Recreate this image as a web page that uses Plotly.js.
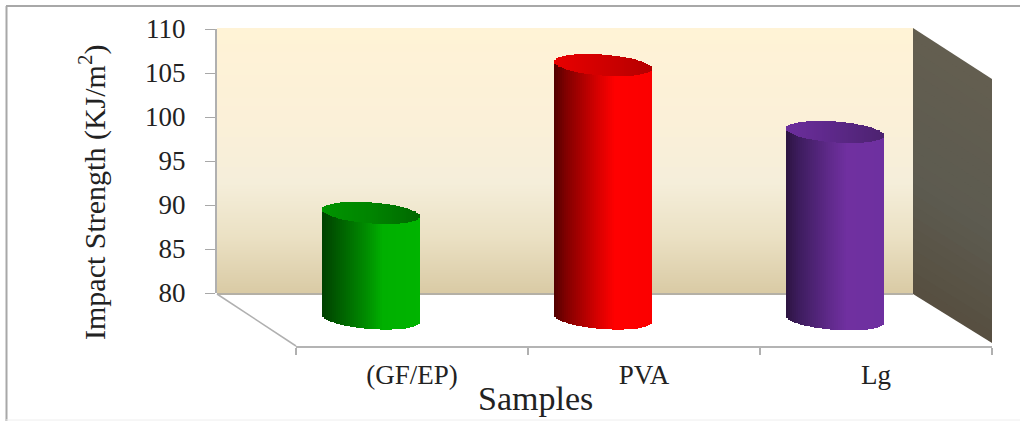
<!DOCTYPE html>
<html><head><meta charset="utf-8">
<script src="https://cdn.plot.ly/plotly-3.0.1.min.js"></script>
<style>html,body{margin:0;padding:0;background:#fff}</style></head>
<body><div id="chart" style="width:1020px;height:421px"></div>
<script>
const categories = ['(GF/EP)', 'PVA', 'Lg'];
const values = [89.1, 105.9, 98.3];
const bases = [77.1, 77.1, 77.0];
const bodyStops = [
  [[0,'#004000'],[0.12,'#005400'],[0.45,'#008c00'],[0.62,'#00b000'],[1,'#00b400']],
  [[0,'#500000'],[0.12,'#800000'],[0.45,'#d80000'],[0.62,'#ff0000'],[1,'#fb0000']],
  [[0,'#2c1440'],[0.12,'#3c1c5c'],[0.45,'#602a8c'],[0.62,'#7030a0'],[1,'#6e30a0']]
];
const capStops = [
  [[0,'#009400'],[0.5,'#008400'],[1,'#006800']],
  [[0,'#e80000'],[0.5,'#d00000'],[1,'#b40000']],
  [[0,'#6c2e9c'],[0.5,'#5c2888'],[1,'#4c2270']]
];
const yTicks = [80, 85, 90, 95, 100, 105, 110];

const W = 1020, H = 421;
const px = x => x / W, py = y => 1 - y / H;
const unitPerPx = 30 / 264;
const xUnitPerPx = 3 / 696;
const depthShift = -41 * xUnitPerPx;
const halfW = 49 * xUnitPerPx;
const slope = 7 * unitPerPx;     // total tilt across a cylinder, in value units
const minor = 10.5 * unitPerPx;
const strips = 49;

function hex(c){return [1,3,5].map(i=>parseInt(c.substr(i,2),16));}
function ramp(stops,t){
  for(let i=1;i<stops.length;i++){
    if(t<=stops[i][0]){
      const a=stops[i-1],b=stops[i],f=(t-a[0])/(b[0]-a[0]);
      const ca=hex(a[1]),cb=hex(b[1]);
      return 'rgb('+ca.map((v,k)=>Math.round(v+(cb[k]-v)*f)).join(',')+')';
    }
  }
  return stops[stops.length-1][1];
}
function cylinder(i){
  const cx=i+depthShift, step=2*halfW/strips;
  const xs=[],bodyBase=[],bodyH=[],bodyC=[],capBase=[],capH=[],capC=[];
  for(let k=0;k<strips;k++){
    const t=(k+0.5)/strips, u=2*t-1, arc=Math.sqrt(1-u*u), tilt=-u*slope/2;
    xs.push(cx+u*halfW);
    const b=bases[i]+tilt-minor*arc, top=values[i]+tilt;
    bodyBase.push(b); bodyH.push(top-b); bodyC.push(ramp(bodyStops[i],t));
    capBase.push(top-minor*arc); capH.push(2*minor*arc); capC.push(ramp(capStops[i],t));
  }
  const common={type:'bar',xaxis:'x3',yaxis:'y2',x:xs,width:step*1.02,hoverinfo:'skip',showlegend:false};
  return [
    Object.assign({},common,{base:bodyBase,y:bodyH,marker:{color:bodyC,line:{width:0}}}),
    Object.assign({},common,{base:capBase,y:capH,marker:{color:capC,line:{width:0}}})
  ];
}
const traces=[
  {type:'scatter',mode:'markers',x:categories,y:[80,80,80],xaxis:'x',yaxis:'y2',marker:{opacity:0},hoverinfo:'skip',showlegend:false},
  {type:'scatter',mode:'markers',x:[0],y:yTicks.slice(0,1),xaxis:'x2',yaxis:'y',marker:{opacity:0},hoverinfo:'skip',showlegend:false}
];
categories.forEach((c,i)=>traces.push(...cylinder(i)));

// back wall gradient
const wallStops=[[0,'#fff3d6'],[0.35,'#fbf0d8'],[0.58,'#f5eeda'],[0.78,'#ebe1c4'],[1,'#d9caa4']];
const shapes=[];
const wallTop=28, wallBot=294;
for(let k=0;k<wallBot-wallTop;k+=1){
  shapes.push({type:'rect',layer:'below',xref:'paper',yref:'paper',x0:px(217),x1:px(913),
    y0:py(wallTop+k),y1:py(wallTop+k+1.4),fillcolor:ramp(wallStops,k/(wallBot-wallTop)),line:{width:0}});
}
// side wall
const sideStops=[[0,'#635e50'],[0.55,'#5d5b50'],[1,'#564e3f']];
const bands=24;
for(let k=0;k<bands;k++){
  const a=k/bands,b=(k+1.1)/bands>1?1:(k+1.1)/bands;
  const yL=f=>wallTop+(wallBot-wallTop)*f, yR=f=>79+(343-79)*f;
  shapes.push({type:'path',layer:'below',xref:'paper',yref:'paper',
    path:`M${px(913)},${py(yL(a))}L${px(992)},${py(yR(a))}L${px(992)},${py(yR(b))}L${px(913)},${py(yL(b))}Z`,
    fillcolor:ramp(sideStops,a),line:{width:0}});
}
const ln=(x0,y0,x1,y1,c,w)=>({type:'line',layer:'below',xref:'paper',yref:'paper',x0:px(x0),y0:py(y0),x1:px(x1),y1:py(y1),line:{color:c,width:w}});
shapes.push(ln(217,294,913,294,'#b4b0a6',2));
shapes.push(ln(217,294,296,346,'#b0b0b0',1.5));
shapes.push(ln(6.5,6,6.5,421,'#a8a8a8',2));
shapes.push(ln(6,6,1020,6,'#a8a8a8',2));
shapes.push(ln(6,420,1020,420,'#eeeeee',1));

const serif='"Liberation Serif","Times New Roman",serif';
const layout={
  width:W,height:H,autosize:false,margin:{l:0,r:0,t:0,b:0,pad:0},
  paper_bgcolor:'#fff',plot_bgcolor:'rgba(0,0,0,0)',showlegend:false,barmode:'overlay',bargap:0,
  font:{family:serif,color:'#222'},
  xaxis:{type:'category',categoryorder:'array',categoryarray:categories,range:[-0.5,2.5],
    domain:[px(296),px(992)],anchor:'y2',tickmode:'array',tickvals:categories,ticktext:categories,
    tickson:'boundaries',ticks:'outside',ticklen:7,tickwidth:1.5,tickcolor:'#b0b0b0',showline:true,linecolor:'#b4b4b4',linewidth:2,
    showgrid:false,zeroline:false,tickfont:{family:serif,size:27,color:'#222'},ticklabelstandoff:4,fixedrange:true},
  xaxis2:{domain:[px(217),px(913)],anchor:'y',range:[0,1],visible:false,fixedrange:true},
  xaxis3:{domain:[px(296),px(992)],anchor:'y2',overlaying:'x',range:[-0.5,2.5],visible:false,fixedrange:true},
  yaxis:{domain:[py(293),py(29)],range:[80,110],anchor:'x2',tickmode:'array',tickvals:yTicks,
    ticks:'outside',ticklen:10,tickwidth:1,tickcolor:'#a8a8a8',showline:true,linecolor:'#b0b0b0',linewidth:2,
    showgrid:false,zeroline:false,tickfont:{family:serif,size:27,color:'#222'},ticklabelstandoff:14,fixedrange:true},
  yaxis2:{domain:[py(346),py(29)],range:[110-317*unitPerPx,110],anchor:'x',visible:false,fixedrange:true},
  shapes:shapes,
  annotations:[
    {xref:'paper',yref:'paper',x:px(535),y:py(398),text:'Samples',showarrow:false,xanchor:'center',yanchor:'middle',
      font:{family:serif,size:34,color:'#222'}},
    {xref:'paper',yref:'paper',x:px(92),y:py(193),text:'Impact Strength (KJ/m<sup>2</sup>)',showarrow:false,textangle:-90,
      xanchor:'center',yanchor:'middle',font:{family:serif,size:30,color:'#222'}}
  ]
};
Plotly.newPlot('chart',traces,layout,{displayModeBar:false,staticPlot:true});
</script></body></html>
